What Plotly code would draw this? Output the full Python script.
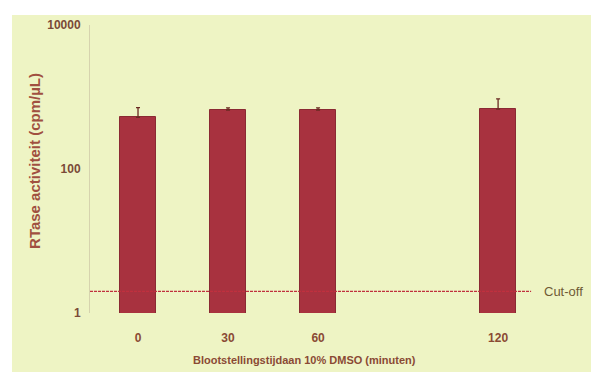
import plotly.graph_objects as go

# Exposure time (minutes) and RTase activity (cpm/µL)
minutes = [0, 30, 60, 120]
tick_labels = ["0", "30", "60", "120"]
activity = [520, 660, 660, 680]
err_plus = [190, 45, 45, 260]
cutoff = [2, 2]
cutoff_x = [-16, 131]

y_ticks = [1, 100, 10000]
y_tick_labels = ["1", "100", "10000"]

bar_fill = "#a8323f"
bar_edge = "#8a2a33"
text_col = "#8a4a34"
bg_col = "#eef4c4"
font_main = "Liberation Sans, Arial"

fig = go.Figure()

fig.add_trace(go.Scatter(
    x=cutoff_x, y=cutoff, mode="lines",
    line=dict(color="#c0303e", width=1.4, dash="3px,1px"),
    hoverinfo="skip", showlegend=False,
))

fig.add_trace(go.Bar(
    x=minutes, y=activity, width=12,
    marker=dict(color=bar_fill, line=dict(color=bar_edge, width=1)),
    error_y=dict(type="data", symmetric=False, array=err_plus,
                 arrayminus=[0] * len(err_plus),
                 color="#6a2a22", thickness=1.3, width=2),
    showlegend=False,
))

# page background (paper tone)
fig.add_shape(type="rect", xref="paper", yref="paper",
              x0=-0.1765, x1=1.14, y0=-0.21, y1=1.0347,
              fillcolor=bg_col, line=dict(width=0), layer="below")

fig.add_annotation(text="Cut-off", xref="paper", yref="y",
                   x=1.022, y=0.301, xanchor="left", yanchor="middle",
                   showarrow=False,
                   font=dict(family=font_main, size=13, color="#6e5a35"))

fig.add_annotation(text="RTase activiteit (cpm/µL)", xref="paper", yref="paper",
                   x=-0.1244, y=0.528, textangle=-90, showarrow=False,
                   xanchor="center", yanchor="middle",
                   font=dict(family=font_main, size=15,
                             color="#a05040", weight="bold"))

fig.add_annotation(text="Blootstellingstijdaan 10% DMSO (minuten)",
                   xref="paper", yref="paper", x=0.486, y=-0.163,
                   showarrow=False, xanchor="center", yanchor="middle",
                   font=dict(family=font_main, size=11, color=text_col,
                             weight="bold"))

fig.update_xaxes(
    range=[-16, 131.3], tickvals=minutes, ticktext=tick_labels,
    showgrid=False, zeroline=False, showline=False,
    ticks="outside", ticklen=14, tickcolor="rgba(0,0,0,0)",
    tickfont=dict(family=font_main, size=12, color=text_col, weight="bold"),
)
fig.update_yaxes(
    type="log", range=[0, 4], tickvals=y_ticks, ticktext=y_tick_labels,
    showgrid=False, zeroline=False,
    showline=True, linecolor="#d6d3ae", linewidth=1,
    ticks="outside", ticklen=6, tickcolor="rgba(0,0,0,0)",
    tickfont=dict(family=font_main, size=12, color="#7a4a38", weight="bold"),
)

fig.update_layout(
    width=591, height=372,
    margin=dict(l=90, r=59, t=25, b=59),
    paper_bgcolor="white", plot_bgcolor="rgba(0,0,0,0)",
    bargap=0,
)

fig.write_html("out.html")
